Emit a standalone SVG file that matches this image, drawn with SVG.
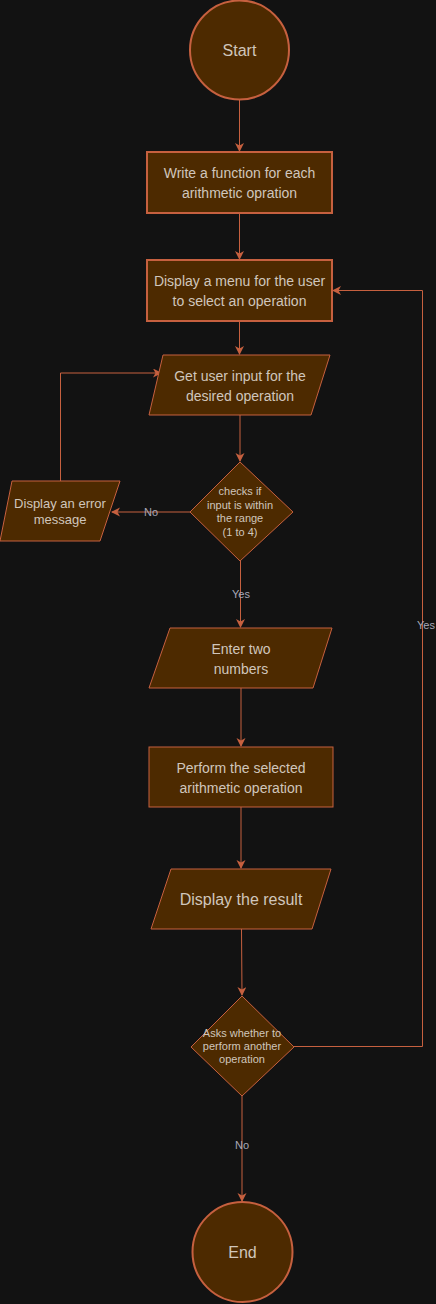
<svg xmlns="http://www.w3.org/2000/svg" width="436" height="1304" viewBox="0 0 436 1304">
<style>
.node{fill:#4D2A00;stroke:#C6603F;stroke-width:1}
.thick{stroke-width:2}
.t{font-family:"Liberation Sans",Arial,sans-serif;fill:#D0C6BC;text-anchor:middle}
.edge{fill:none;stroke:#C6603F;stroke-width:1}
.lbl{font-family:"Liberation Sans",Arial,sans-serif;font-size:11px;fill:#A8A8B8;text-anchor:middle}
</style>
<defs>
<marker id="ah" markerWidth="10" markerHeight="10" refX="8" refY="4.5" orient="auto" markerUnits="userSpaceOnUse">
<path d="M0,0 L9,4.5 L0,9 L2.5,4.5 Z" fill="#C6603F"/>
</marker>
</defs>
<rect width="436" height="1304" fill="#121212"/>
<g id="connectors">
<path class="edge" d="M239.5,100 V151" marker-end="url(#ah)"/>
<path class="edge" d="M239.5,213 V259" marker-end="url(#ah)"/>
<path class="edge" d="M239.5,321 V354" marker-end="url(#ah)"/>
<path class="edge" d="M240,415 V461" marker-end="url(#ah)"/>
<path class="edge" d="M190,512 H112" marker-end="url(#ah)"/>
<path class="edge" d="M60.5,481 V373 H161" marker-end="url(#ah)"/>
<path class="edge" d="M240.5,561 V627" marker-end="url(#ah)"/>
<path class="edge" d="M241,688 V746" marker-end="url(#ah)"/>
<path class="edge" d="M241,807 V868" marker-end="url(#ah)"/>
<path class="edge" d="M241.5,929 L242,995" marker-end="url(#ah)"/>
<path class="edge" d="M294,1046.5 H422.5 V290.5 H333" marker-end="url(#ah)"/>
<path class="edge" d="M242,1096 V1201" marker-end="url(#ah)"/>
<text class="lbl" x="151" y="516">No</text>
<text class="lbl" x="241" y="598">Yes</text>
<text class="lbl" x="426" y="629">Yes</text>
<text class="lbl" x="242" y="1149">No</text>
</g>
<g id="start">
<circle class="node thick" cx="239.5" cy="50" r="49.5"/>
<text class="t" x="239.5" y="56" font-size="16">Start</text>
</g>
<g id="write-functions">
<rect class="node thick" x="147" y="152" width="185" height="61"/>
<text class="t" font-size="14"><tspan x="239.5" y="178">Write a function for each</tspan><tspan x="239.5" y="198">arithmetic opration</tspan></text>
</g>
<g id="display-menu">
<rect class="node thick" x="147" y="260" width="185" height="61"/>
<text class="t" font-size="14"><tspan x="239.5" y="286">Display a menu for the user</tspan><tspan x="239.5" y="306">to select an operation</tspan></text>
</g>
<g id="get-input">
<polygon class="node" points="163,355 330,355 311,415 149,415"/>
<text class="t" font-size="14"><tspan x="240" y="381">Get user input for the</tspan><tspan x="240" y="401">desired operation</tspan></text>
</g>
<g id="check-range">
<polygon class="node" points="240,462 293,512 240,561 190,512"/>
<text class="t" font-size="11"><tspan x="240" y="495">checks if</tspan><tspan x="240" y="509">input is within</tspan><tspan x="240" y="522">the range</tspan><tspan x="240" y="536">(1 to 4)</tspan></text>
</g>
<g id="error">
<polygon class="node" points="12,481 120,481 100,541 0,541"/>
<text class="t" font-size="13"><tspan x="60" y="508">Display an error</tspan><tspan x="60" y="524">message</tspan></text>
</g>
<g id="enter-numbers">
<polygon class="node" points="170,628 332,628 313,688 149,688"/>
<text class="t" font-size="14"><tspan x="241" y="654">Enter two</tspan><tspan x="241" y="674">numbers</tspan></text>
</g>
<g id="perform">
<rect class="node" x="149" y="747" width="184" height="60"/>
<text class="t" font-size="14"><tspan x="241" y="773">Perform the selected</tspan><tspan x="241" y="793">arithmetic operation</tspan></text>
</g>
<g id="display-result">
<polygon class="node" points="171,869 331,869 312,929 151,929"/>
<text class="t" x="241" y="905" font-size="16">Display the result</text>
</g>
<g id="ask-again">
<polygon class="node" points="242,996 294,1047 242,1096 191,1047"/>
<text class="t" font-size="11"><tspan x="242" y="1037">Asks whether to</tspan><tspan x="242" y="1050">perform another</tspan><tspan x="242" y="1063">operation</tspan></text>
</g>
<g id="end">
<circle class="node thick" cx="242.5" cy="1252" r="50"/>
<text class="t" x="242.5" y="1258" font-size="16">End</text>
</g>
</svg>
